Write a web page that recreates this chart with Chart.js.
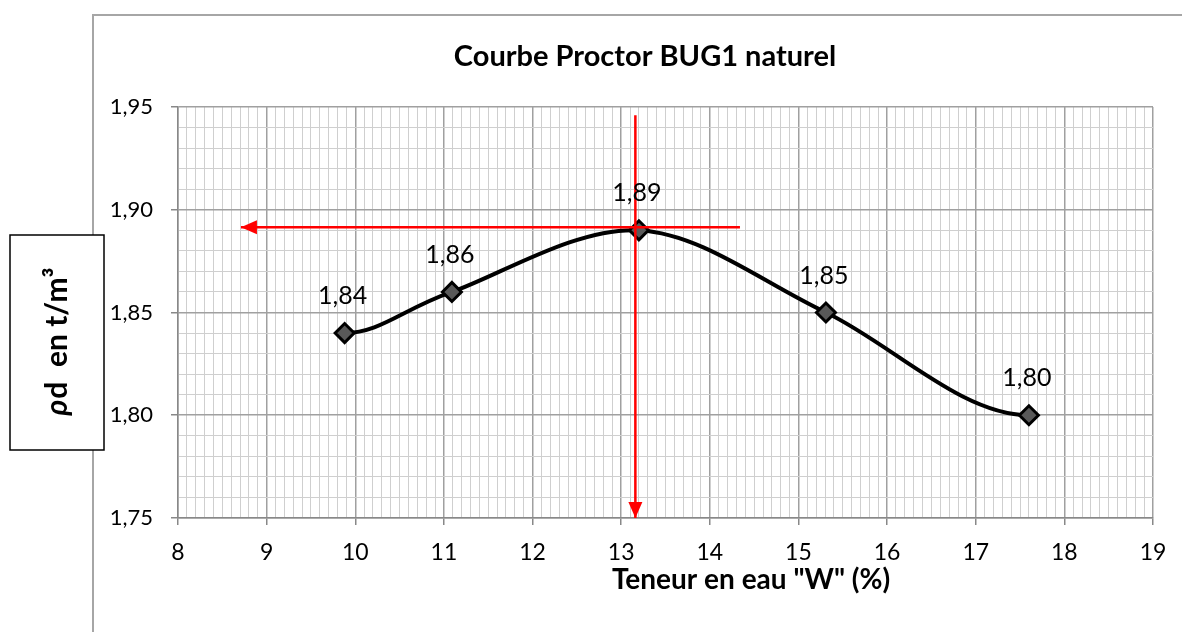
<!DOCTYPE html>
<html>
<head>
<meta charset="utf-8">
<script src="https://cdn.jsdelivr.net/npm/chart.js@4.4.0/dist/chart.umd.min.js"></script>
<style>
  html, body { margin: 0; padding: 0; background: #fff; overflow: hidden; }
  #wrap { position: relative; width: 1183px; height: 632px; }
</style>
</head>
<body>
<div id="wrap"><canvas id="proctor" width="1183" height="632"></canvas></div>
<script>
// ── Données ──
const teneurEau    = [9.88, 11.09, 13.2, 15.31, 17.6];   // W (%)
const densiteSeche = [1.84, 1.86, 1.89, 1.85, 1.80];     // ρd (t/m³)

// lecture de l'optimum (flèches rouges)
const optimumHorizX = [14.34, 8.71];
const optimumHorizY = [1.8915, 1.8915];
const optimumVertX  = [13.16, 13.16];
const optimumVertY  = [1.946, 1.75];

// graduations
const xMajorTicks = [8, 9, 10, 11, 12, 13, 14, 15, 16, 17, 18, 19];
const yMajorTicks = [1.75, 1.80, 1.85, 1.90, 1.95];
const xMinorStep = 0.1;
const yMinorStep = 0.01;

const chartTitle = 'Courbe Proctor BUG1 naturel';
const xTitle = 'Teneur en eau "W" (%)';

const FONT = 'Lato, Carlito, "Open Sans", sans-serif';

// ── Helpers ──
const fr = v => v.toFixed(2).replace('.', ',');
const isXMajor = v => Math.abs(v - Math.round(v)) < 1e-6;
const isYMajor = v => Math.abs(v * 20 - Math.round(v * 20)) < 1e-6;

function buildTicks(min, max, step) {
  const out = [];
  const n = Math.round((max - min) / step);
  for (let i = 0; i <= n; i++) out.push({ value: Math.round((min + i * step) * 1000) / 1000 });
  return out;
}

const toXY = (xs, ys) => xs.map((x, i) => ({ x, y: ys[i] }));

// ── Plugins ──
const framePlugin = {
  id: 'frame',
  beforeDraw(chart) {
    const ctx = chart.ctx;
    ctx.save();
    ctx.strokeStyle = '#a6a6a6';
    ctx.lineWidth = 2;
    ctx.beginPath();
    ctx.moveTo(93, 632);
    ctx.lineTo(93, 15);
    ctx.lineTo(1182, 15);
    ctx.stroke();
    ctx.restore();
  },
  afterDraw(chart) {
    const ctx = chart.ctx;
    ctx.save();
    // titre
    ctx.fillStyle = '#000';
    ctx.font = 'bold 29px ' + FONT;
    ctx.textAlign = 'center';
    ctx.textBaseline = 'middle';
    ctx.fillText(chartTitle, 645, 57);
    // titre axe X
    ctx.font = 'bold 28px ' + FONT;
    ctx.fillText(xTitle, 751, 580);
    // boîte titre axe Y
    ctx.fillStyle = '#fff';
    ctx.fillRect(10, 235, 94, 215);
    ctx.strokeStyle = '#000';
    ctx.lineWidth = 1.5;
    ctx.strokeRect(10, 235, 94, 215);
    ctx.translate(57, 342);
    ctx.rotate(-Math.PI / 2);
    ctx.fillStyle = '#000';
    const f1 = 'italic bold 30px ' + FONT;
    const f2 = 'bold 30px ' + FONT;
    const t1 = 'ρ', t2 = 'd  en t/m³';
    ctx.font = f1; const w1 = ctx.measureText(t1).width;
    ctx.font = f2; const w2 = ctx.measureText(t2).width;
    const x0 = -(w1 + w2) / 2;
    ctx.textAlign = 'left';
    ctx.font = f1; ctx.fillText(t1, x0, 0);
    ctx.font = f2; ctx.fillText(t2, x0 + w1 + 1, 0);
    ctx.restore();
  }
};

// lissage façon Excel : tangentes Catmull-Rom, extrémités horizontales
const smoothPlugin = {
  id: 'excelSmooth',
  beforeDatasetDraw(chart, args) {
    if (args.index !== 2) return;
    const p = args.meta.data;
    const n = p.length;
    p.forEach((pt, i) => {
      const prev = i > 0 ? p[i - 1] : { x: 2 * pt.x - p[1].x, y: p[1].y };
      const next = i < n - 1 ? p[i + 1] : { x: 2 * pt.x - p[n - 2].x, y: p[n - 2].y };
      const tx = (next.x - prev.x) / 6, ty = (next.y - prev.y) / 6;
      const tl = Math.hypot(tx, ty) || 1;
      const kPrev = Math.min(1, Math.hypot(pt.x - prev.x, pt.y - prev.y) / 2 / tl);
      const kNext = Math.min(1, Math.hypot(next.x - pt.x, next.y - pt.y) / 2 / tl);
      pt.cp1x = pt.x - tx * kPrev; pt.cp1y = pt.y - ty * kPrev;
      pt.cp2x = pt.x + tx * kNext; pt.cp2y = pt.y + ty * kNext;
    });
    args.meta.dataset._pointsUpdated = true;
  }
};

const labelsPlugin = {
  id: 'pointLabels',
  afterDatasetsDraw(chart) {
    const meta = chart.getDatasetMeta(2);
    const ctx = chart.ctx;
    ctx.save();
    ctx.font = '25px ' + FONT;
    ctx.fillStyle = '#000';
    ctx.textAlign = 'center';
    ctx.textBaseline = 'middle';
    meta.data.forEach((pt, i) => {
      ctx.fillText(fr(densiteSeche[i]), pt.x - 2, pt.y - 37);
    });
    ctx.restore();
  }
};

const arrowPlugin = {
  id: 'arrows',
  afterDatasetsDraw(chart) {
    const ctx = chart.ctx;
    [0, 1].forEach(di => {
      const pts = chart.getDatasetMeta(di).data;
      const a = pts[pts.length - 2], b = pts[pts.length - 1];
      const ang = Math.atan2(b.y - a.y, b.x - a.x);
      const len = 16, half = 7;
      ctx.save();
      ctx.translate(b.x, b.y);
      ctx.rotate(ang);
      ctx.fillStyle = '#ff0000';
      ctx.beginPath();
      ctx.moveTo(0, 0);
      ctx.lineTo(-len, -half);
      ctx.lineTo(-len, half);
      ctx.closePath();
      ctx.fill();
      ctx.restore();
    });
  }
};

// ── Chart ──
new Chart(document.getElementById('proctor'), {
  type: 'line',
  data: {
    datasets: [
      {
        data: toXY(optimumHorizX, optimumHorizY),
        borderColor: '#ff0000', borderWidth: 2.5, pointRadius: 0, tension: 0, order: 0
      },
      {
        data: toXY(optimumVertX, optimumVertY),
        borderColor: '#ff0000', borderWidth: 2.5, pointRadius: 0, tension: 0, order: 0
      },
      {
        data: toXY(teneurEau, densiteSeche),
        borderColor: '#000', borderWidth: 4, tension: 0.4,
        pointStyle: 'rectRot', pointRadius: 9.5, pointBorderWidth: 3,
        pointBorderColor: '#000', pointBackgroundColor: '#595959', order: 1
      }
    ]
  },
  options: {
    responsive: false,
    animation: false,
    devicePixelRatio: 1,
    layout: { padding: { left: 100, top: 107, right: 30, bottom: 0 } },
    plugins: { legend: { display: false }, tooltip: { enabled: false } },
    scales: {
      x: {
        type: 'linear', min: 8, max: 19,
        afterBuildTicks: s => { s.ticks = buildTicks(8, 19, xMinorStep); },
        afterFit: s => { s.height = 114; },
        border: { display: true, color: '#888', width: 1.5 },
        grid: {
          color: c => isXMajor(c.tick.value) ? '#a0a0a0' : '#cfcfcf',
          lineWidth: c => isXMajor(c.tick.value) ? 1.5 : 1,
          tickColor: c => isXMajor(c.tick.value) ? '#888' : 'rgba(0,0,0,0)',
          tickLength: 7, drawTicks: true
        },
        ticks: {
          autoSkip: false, maxRotation: 0, padding: 14,
          color: '#000', font: { family: FONT, size: 23 },
          callback: v => xMajorTicks.includes(Math.round(v * 1000) / 1000) ? String(Math.round(v)) : ''
        }
      },
      y: {
        type: 'linear', min: 1.75, max: 1.95,
        afterBuildTicks: s => { s.ticks = buildTicks(1.75, 1.95, yMinorStep); },
        afterFit: s => { s.width = 78; },
        border: { display: true, color: '#888', width: 1.5 },
        grid: {
          color: c => isYMajor(c.tick.value) ? '#a0a0a0' : '#cfcfcf',
          lineWidth: c => isYMajor(c.tick.value) ? 1.5 : 1,
          tickColor: c => isYMajor(c.tick.value) ? '#888' : 'rgba(0,0,0,0)',
          tickLength: 7, drawTicks: true
        },
        ticks: {
          autoSkip: false, padding: 18,
          color: '#000', font: { family: FONT, size: 22 },
          callback: v => yMajorTicks.some(t => Math.abs(t - v) < 1e-6) ? fr(v) : ''
        }
      }
    }
  },
  plugins: [framePlugin, smoothPlugin, labelsPlugin, arrowPlugin]
});
</script>
</body>
</html>
